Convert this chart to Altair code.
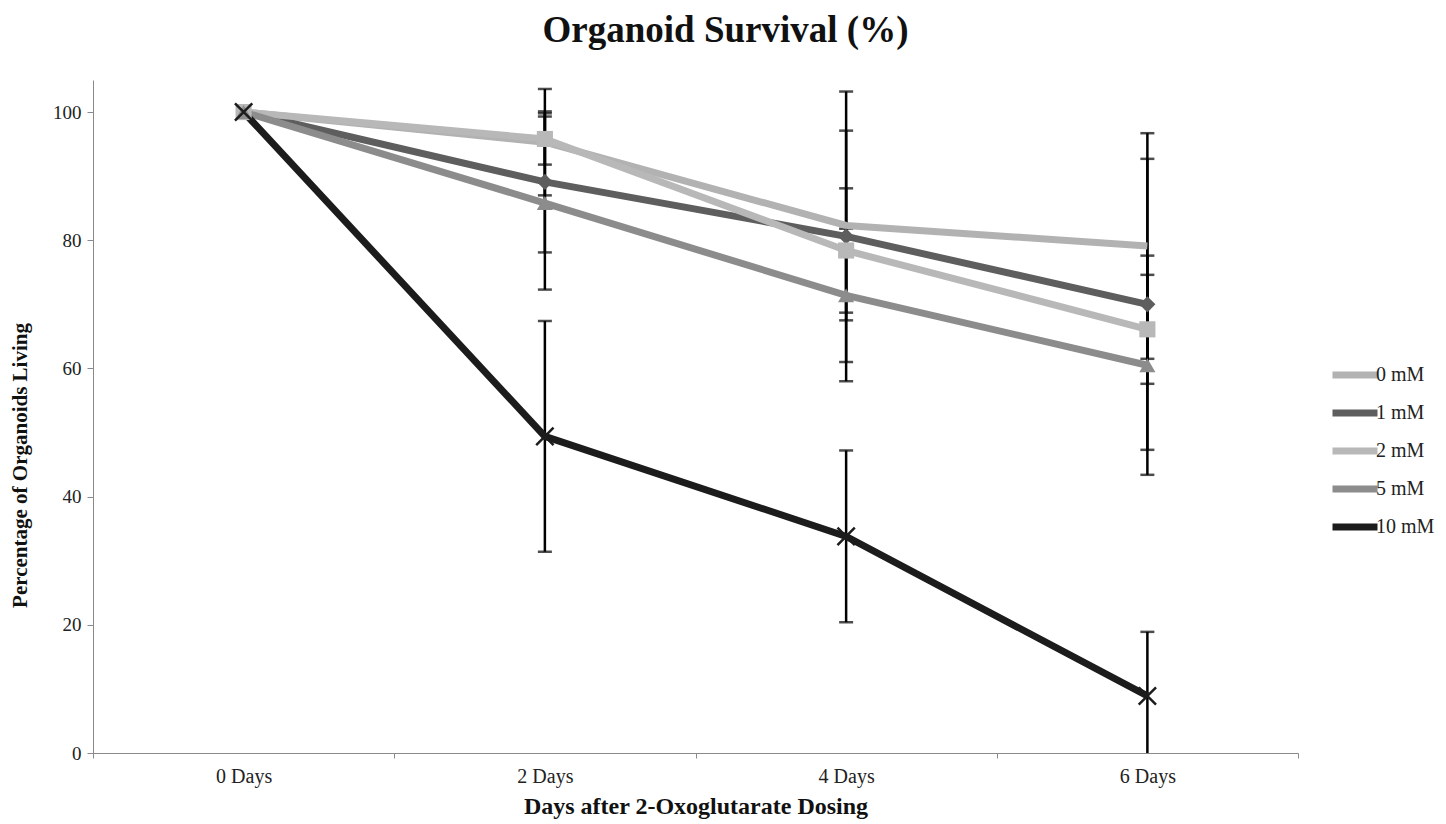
import altair as alt
import pandas as pd

days = ["0 Days", "2 Days", "4 Days", "6 Days"]
series = ["0 mM", "1 mM", "2 mM", "5 mM", "10 mM"]

vals_0 = [100, 95.3, 82.3, 79.1]
vals_1 = [100, 89.1, 80.6, 70.0]
vals_2 = [100, 95.8, 78.4, 66.1]
vals_5 = [100, 85.8, 71.4, 60.5]
vals_10 = [100, 49.4, 33.8, 8.9]

err_0 = [0, 8.3, 14.8, 17.6]
err_1 = [0, 11.0, 22.6, 22.7]
err_2 = [0, 4.0, 9.7, 8.5]
err_5 = [0, 13.5, 10.4, 17.1]
err_10 = [0, 18.0, 13.4, 10.0]

colors = ["#b2b2b2", "#5e5e5e", "#b8b8b8", "#8c8c8c", "#1c1c1c"]
FONT = "Liberation Serif"

rows = []
for s, v, e in zip(series, [vals_0, vals_1, vals_2, vals_5, vals_10],
                   [err_0, err_1, err_2, err_5, err_10]):
    for d, vv, ee in zip(days, v, e):
        rows.append({"day": d, "series": s, "value": vv, "err": ee,
                     "lo": vv - ee, "hi": vv + ee})
df = pd.DataFrame(rows)

x_enc = alt.X("day:N", sort=days, scale=alt.Scale(paddingInner=0, paddingOuter=0),
              axis=alt.Axis(title="Days after 2-Oxoglutarate Dosing", labelAngle=0,
                            tickBand="extent", tickSize=5, labelPadding=8,
                            titlePadding=8, domainColor="#8a8a8a", tickColor="#8a8a8a",
                            labelFont=FONT, labelFontSize=20, labelColor="#222",
                            titleFont=FONT, titleFontSize=24, titleFontWeight="bold",
                            titleColor="#111"))
y_scale = alt.Scale(domain=[0, 105], nice=False)
y_axis = alt.Axis(title="Percentage of Organoids Living", values=[0, 20, 40, 60, 80, 100],
                  grid=False, tickSize=6, labelPadding=6, domainColor="#8a8a8a",
                  tickColor="#8a8a8a", labelFont=FONT, labelFontSize=19, labelColor="#222",
                  titleFont=FONT, titleFontSize=21, titleFontWeight="bold", titleColor="#111",
                  titleX=-73, titleY=385, titleBaseline="middle", titleAngle=270)

color_scale = alt.Scale(domain=series, range=colors)

base = alt.Chart(df)
eb = base.transform_filter("datum.err > 0")

rules = eb.mark_rule(color="black", strokeWidth=2.5, clip=True).encode(
    x=x_enc, y=alt.Y("lo:Q", scale=y_scale, axis=y_axis), y2="hi:Q")
tick_lo = eb.mark_tick(color="black", thickness=2.5, size=14, clip=True).encode(
    x=alt.X("day:N", sort=days), y=alt.Y("lo:Q"))
tick_hi = eb.mark_tick(color="black", thickness=2.5, size=14, clip=True).encode(
    x=alt.X("day:N", sort=days), y=alt.Y("hi:Q"))

lines = base.mark_line(strokeWidth=7).encode(
    x=alt.X("day:N", sort=days),
    y=alt.Y("value:Q"),
    color=alt.Color("series:N", scale=color_scale, sort=series,
                    legend=alt.Legend(title=None, orient="none", legendX=1248.5, legendY=281.5,
                                      symbolType="M-2.25,0H2.25", symbolSize=400,
                                      symbolStrokeWidth=7, labelOffset=7.5, rowPadding=9,
                                      padding=0, labelFont=FONT, labelFontSize=20,
                                      labelColor="#222")),
    detail="series:N",
)

shape_domain = ["1 mM", "2 mM", "5 mM"]
shape_range = ["diamond", "square", "triangle-up"]
pts = base.transform_filter(alt.FieldOneOfPredicate(field="series", oneOf=shape_domain)).mark_point(
    filled=True, opacity=1, size=260).encode(
    x=alt.X("day:N", sort=days),
    y=alt.Y("value:Q"),
    color=alt.Color("series:N", scale=color_scale, legend=None),
    shape=alt.Shape("series:N", scale=alt.Scale(domain=shape_domain, range=shape_range), legend=None),
)
xpts = base.transform_filter(alt.datum.series == "10 mM").mark_point(
    shape="M-1,-1L1,1M-1,1L1,-1", filled=False, size=300, strokeWidth=2.5, color="#1c1c1c",
    opacity=1).encode(x=alt.X("day:N", sort=days), y=alt.Y("value:Q"))

chart = alt.layer(rules, tick_lo, tick_hi, lines, pts, xpts).properties(
    width=1205, height=673,
    background="white",
    padding={"left": 93, "top": 80, "right": 148, "bottom": 71},
    autosize=alt.AutoSizeParams(type="none"),
    title=alt.TitleParams("Organoid Survival (%)", font=FONT, fontSize=37, fontWeight="bold",
                          color="#111", anchor="middle", frame="group", dx=30, offset=1,
                          baseline="alphabetic"),
).configure_view(strokeWidth=0)

chart.save("out.html", embed_options={"renderer": "svg", "actions": False})
